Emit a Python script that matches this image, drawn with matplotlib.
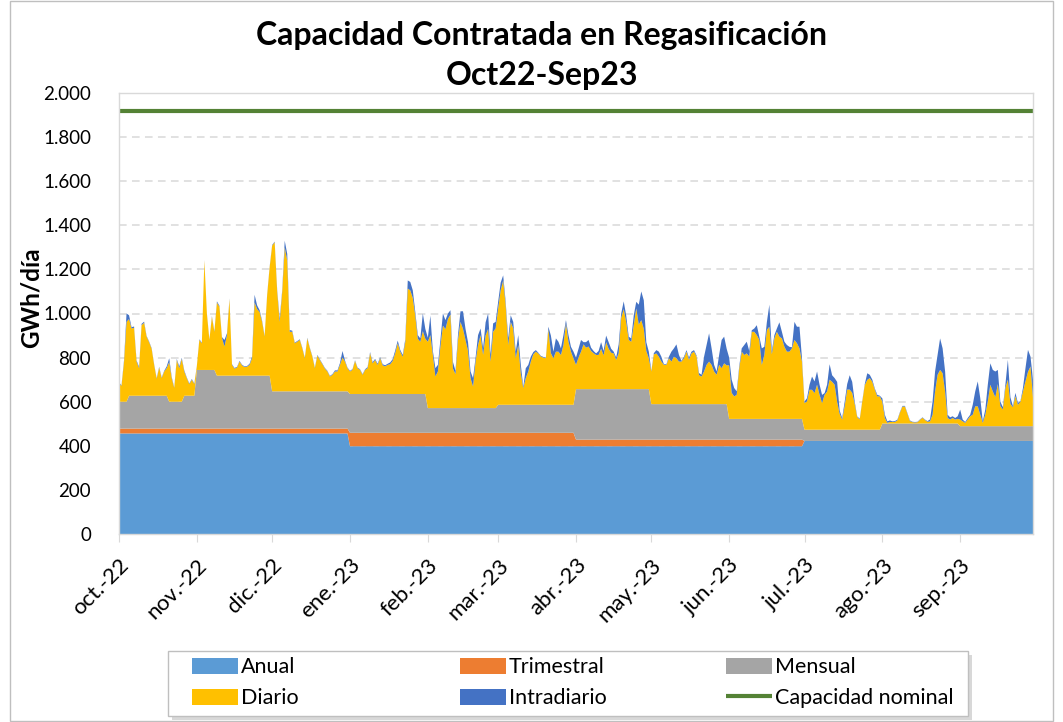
import numpy as np
import pandas as pd
import matplotlib
matplotlib.use('Agg')
import matplotlib.pyplot as plt
from matplotlib.patches import Rectangle
from matplotlib.ticker import FuncFormatter

plt.rcParams['font.family'] = ['Lato', 'DejaVu Sans']

# ---- datos (GWh/día) ----
trimestres = ['2022-10-01', '2023-01-01', '2023-04-01', '2023-07-01']
anual_q = [456, 398, 398, 422]
trimestral_q = [22, 61, 30, 0]

mensual_inicio = ['2022-10-01', '2022-10-05', '2022-10-21', '2022-10-27', '2022-11-01',
                  '2022-11-09', '2022-12-01', '2023-01-01', '2023-02-01', '2023-03-01',
                  '2023-04-01', '2023-05-01', '2023-06-01', '2023-07-01', '2023-08-01',
                  '2023-09-01']
mensual_v = [122, 149, 122, 149, 266, 240, 169, 176, 112, 127, 229, 161, 94, 51, 79, 67]

diario = [
    # oct
    84, 72, 180, 362, 348, 305, 308, 155, 125, 320, 331, 268, 243, 213, 140, 77, 128, 80, 110, 125,
    180, 107, 62, 189, 152, 194, 110, 80, 53, 73, 53,
    # nov
    16, 136, 121, 496, 256, 136, 241, 173, 332, 312, 172, 132, 184, 347, 49, 32, 37, 64, 47, 39,
    41, 49, 79, 332, 302, 289, 244, 177, 365, 492,
    # dic
    661, 676, 451, 315, 451, 653, 593, 270, 270, 218, 225, 233, 195, 150, 240, 195, 157, 105, 162, 142,
    123, 103, 90, 67, 75, 90, 90, 120, 153, 135, 105,
    # ene
    102, 110, 150, 117, 109, 87, 109, 117, 185, 139, 154, 132, 162, 130, 125, 132, 135, 150, 185, 230,
    192, 169, 235, 478, 470, 435, 355, 250, 237, 285, 250,
    # feb
    301, 331, 241, 143, 166, 279, 374, 358, 404, 424, 179, 154, 309, 391, 359, 309, 259, 136, 98, 211,
    286, 331, 241, 329, 359, 211, 346, 361,
    # mar
    437, 519, 564, 452, 271, 376, 346, 211, 271, 144, 76, 121, 151, 196, 229, 241, 233, 219, 214, 211,
    344, 234, 211, 241, 241, 226, 271, 369, 286, 241, 211,
    # abr
    110, 143, 170, 203, 188, 193, 173, 163, 155, 155, 183, 153, 213, 183, 165, 162, 133, 163, 323, 363,
    303, 223, 215, 290, 366, 293, 313, 273, 173, 140,
    # may
    148, 226, 230, 215, 193, 178, 178, 208, 193, 215, 208, 193, 193, 208, 238, 201, 230, 238, 216, 131,
    125, 148, 178, 193, 178, 148, 133, 178, 163, 185, 176,
    # jun
    243, 118, 102, 109, 228, 305, 290, 297, 283, 395, 395, 380, 358, 245, 290, 403, 418, 293, 365, 395,
    373, 365, 327, 305, 305, 320, 358, 343, 320, 260,
    # jul
    121, 128, 181, 181, 166, 204, 158, 121, 158, 173, 227, 217, 204, 127, 72, 46, 107, 182, 182, 167,
    117, 57, 47, 127, 202, 226, 234, 217, 182, 151, 151,
    # ago
    99, 25, 3, 7, 7, 7, 14, 49, 77, 77, 44, 11, 6, 5, 6, 17, 26, 16, 8, 10,
    40, 145, 221, 243, 228, 145, 25, 18, 25, 18, 21,
    # sep
    30, 22, 15, 30, 45, 52, 90, 90, 52, 15, 52, 112, 188, 157, 131, 191, 91, 76, 173, 211,
    101, 86, 136, 97, 111, 157, 203, 246, 271, 131,
]

intradiario = [
    # oct
    3, 3, 8, 38, 17, 6, 6, 5, 6, 6, 5, 3, 3, 3, 3, 3, 3, 3, 3, 8,
    17, 5, 3, 5, 8, 5, 5, 3, 3, 3, 3,
    # nov
    2, 3, 3, 2, 2, 2, 3, 3, 5, 5, 3, 30, 8, 3, 3, 3, 3, 3, 3, 3,
    3, 5, 8, 35, 17, 8, 5, 3, 3, 3,
    # dic
    3, 3, 8, 15, 8, 30, 30, 8, 5, 3, 3, 3, 3, 3, 3, 3, 3, 3, 3, 3,
    3, 3, 3, 3, 3, 5, 5, 8, 30, 5, 3,
    # ene
    3, 3, 3, 3, 3, 3, 3, 5, 5, 5, 5, 5, 5, 5, 5, 5, 8, 8, 12, 12,
    8, 8, 12, 37, 38, 35, 17, 17, 15, 80, 45,
    # feb
    18, 88, 18, 38, 30, 30, 55, 41, 25, 20, 30, 15, 22, 48, 80, 50, 40, 30, 38, 18,
    45, 30, 30, 60, 70, 30, 38, 30,
    # mar
    30, 35, 23, 15, 30, 30, 30, 30, 45, 40, 5, 45, 30, 22, 10, 7, 3, 3, 3, 3,
    10, 80, 30, 60, 45, 30, 45, 15, 30, 22, 30,
    # abr
    33, 40, 53, 10, 25, 30, 15, 10, 7, 18, 30, 20, 30, 30, 18, 8, 10, 40, 20, 35,
    30, 15, 15, 45, 30, 90, 130, 130, 40, 30,
    # may
    3, 5, 15, 23, 22, 3, 3, 7, 45, 38, 63, 30, 3, 7, 7, 10, 8, 7, 5, 10,
    8, 67, 90, 128, 75, 30, 15, 45, 128, 121, 75,
    # jun
    35, 60, 38, 16, 10, 15, 45, 53, 25, 7, 15, 45, 15, 75, 37, 35, 100, 15, 15, 15,
    65, 30, 23, 30, 22, 5, 82, 75, 98, 15,
    # jul
    7, 15, 23, 60, 53, 60, 46, 37, 8, 31, 70, 30, 30, 90, 15, 7, 20, 25, 65, 50,
    10, 3, 3, 3, 5, 30, 15, 10, 5, 7, 3,
    # ago
    15, 15, 7, 7, 3, 4, 4, 3, 3, 3, 3, 3, 2, 2, 2, 2, 2, 2, 3, 9,
    59, 91, 90, 143, 113, 91, 15, 10, 8, 7, 12,
    # sep
    45, 8, 4, 7, 7, 45, 68, 113, 75, 7, 23, 76, 97, 98, 117, 64, 20, 10, 15, 90,
    30, 5, 15, 8, 3, 16, 60, 100, 45, 80,
]

capacidad_nominal = 1918

meses = ['oct.-22', 'nov.-22', 'dic.-22', 'ene.-23', 'feb.-23', 'mar.-23',
         'abr.-23', 'may.-23', 'jun.-23', 'jul.-23', 'ago.-23', 'sep.-23']

fechas = pd.date_range('2022-10-01', periods=len(diario), freq='D')

# series escalonadas a diario
anual = pd.Series(anual_q, index=pd.to_datetime(trimestres)).reindex(fechas, method='ffill').values
trimestral = pd.Series(trimestral_q, index=pd.to_datetime(trimestres)).reindex(fechas, method='ffill').values
mensual = pd.Series(mensual_v, index=pd.to_datetime(mensual_inicio)).reindex(fechas, method='ffill').values

colores = ['#5B9BD5', '#ED7D31', '#A5A5A5', '#FFC000', '#4472C4']
nombres = ['Anual', 'Trimestral', 'Mensual', 'Diario', 'Intradiario']

fig = plt.figure(figsize=(10.63, 7.22), dpi=100)
ax = fig.add_axes([119/1063, 1-534/722, (1033-119)/1063, (534-93)/722])

polys = ax.stackplot(fechas, anual, trimestral, mensual, np.array(diario), np.array(intradiario),
                     colors=colores, labels=nombres, linewidth=0)
linea, = ax.plot(fechas, [capacidad_nominal]*len(fechas), color='#548235', lw=3,
                 label='Capacidad nominal', solid_capstyle='butt')

ax.set_ylim(0, 2000)
ax.set_xlim(fechas[0], fechas[-1])
ax.set_yticks(range(0, 2001, 200))
ax.yaxis.set_major_formatter(FuncFormatter(lambda v, p: f'{v:,.0f}'.replace(',', '.')))
ax.tick_params(axis='y', length=0, labelsize=13.5, pad=20, colors='#000000')

ticks = pd.date_range('2022-10-01', periods=12, freq='MS')
ax.set_xticks(ticks)
ax.set_xticklabels(meses, rotation=45, ha='right', rotation_mode='anchor', fontsize=16)
ax.tick_params(axis='x', length=6, color='#D9D9D9', pad=9)

ax.set_axisbelow(True)
ax.yaxis.grid(True, color='#D9D9D9', linestyle=(0, (5, 3.5)), lw=1.1)
for s in ax.spines.values():
    s.set_color('#D9D9D9')
    s.set_linewidth(1)

ax.set_ylabel('GWh/día', fontsize=17.5, fontweight='bold')
ax.yaxis.set_label_coords(-0.084, 0.535)

fig.text(542/1063, 1-36/722, 'Capacidad Contratada en Regasificación', ha='center', va='center',
         fontsize=23, fontweight='bold')
fig.text(542/1063, 1-75/722, 'Oct22-Sep23', ha='center', va='center',
         fontsize=23, fontweight='bold')

# leyenda: caja con sombra y tres columnas de dos filas
fig.patches.append(Rectangle((172/1063, 1-720/722), 800/1063, 65/722, transform=fig.transFigure,
                             facecolor='#BFBFBF', edgecolor='none', alpha=0.6, zorder=1))
fig.patches.append(Rectangle((168/1063, 1-716/722), 800/1063, 65/722, transform=fig.transFigure,
                             facecolor='white', edgecolor='#BFBFBF', lw=1, zorder=2))
h = polys + [linea]
columnas = [(0, 3), (1, 4), (2, 5)]
x_col = [186, 454, 720]
for (i, j), xc in zip(columnas, x_col):
    lg = fig.legend([h[i], h[j]], [h[i].get_label(), h[j].get_label()], ncol=1,
                    loc='upper left', bbox_to_anchor=(xc/1063, 1-651/722), fontsize=15.5,
                    frameon=False, handlelength=2.1, handleheight=0.8, labelspacing=0.5,
                    handletextpad=0.15, borderpad=0.3, borderaxespad=0)
    lg.set_zorder(3)

# borde del gráfico
fig.patches.append(Rectangle((10/1063, 0.002), 1-20/1063, 0.996, transform=fig.transFigure,
                             fill=False, edgecolor='#BFBFBF', lw=1))

fig.savefig('out.png', dpi=100)
